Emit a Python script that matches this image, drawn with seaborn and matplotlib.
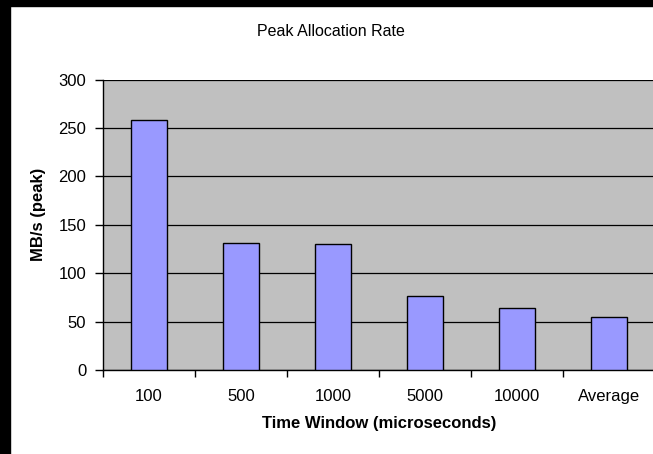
import matplotlib
matplotlib.use("Agg")
import matplotlib.pyplot as plt
import seaborn as sns
import pandas as pd
import numpy as np
from matplotlib.patches import Rectangle
from matplotlib.ticker import FixedLocator

windows = ["100", "500", "1000", "5000", "10000", "Average"]
peak_rate = [258, 131, 130, 76, 64, 55]
y_ticks = [0, 50, 100, 150, 200, 250, 300]

df = pd.DataFrame({"window": windows, "rate": peak_rate})

sns.set_theme(style="white")
plt.rcParams["font.family"] = ["Liberation Sans", "DejaVu Sans"]
plt.rcParams["text.color"] = "black"
plt.rcParams["axes.labelcolor"] = "black"

W, H = 653, 454
fig = plt.figure(figsize=(W / 100, H / 100), dpi=100)
fig.patch.set_facecolor("white")

left, right, top, bottom = 103, 655, 79.5, 370
ax = fig.add_axes([left / W, (H - bottom) / H, (right - left) / W, (bottom - top) / H])
ax.set_facecolor("#C0C0C0")

sns.barplot(data=df, x="window", y="rate", order=windows, color="#9999FF",
            edgecolor="black", linewidth=1.0, width=0.4, saturation=1, ax=ax, zorder=3)

ax.set_xlim(-0.5, len(windows) - 0.5)
ax.set_ylim(0, 300)
ax.set_yticks(y_ticks)
ax.yaxis.grid(True, color="black", linewidth=0.9)
ax.xaxis.grid(False)
ax.set_axisbelow(True)

# category separators as ticks
ax.xaxis.set_minor_locator(FixedLocator(np.arange(-0.5, len(windows), 1.0)))
ax.tick_params(axis="x", which="major", length=0, pad=14, labelsize=12, colors="black")
ax.tick_params(axis="x", which="minor", length=5, width=1, color="black", direction="out", bottom=True)
ax.tick_params(axis="y", length=6, width=1, color="black", direction="out", left=True,
               labelsize=12, pad=6, colors="black")

for s in ["top", "right"]:
    ax.spines[s].set_visible(False)
for s in ["left", "bottom"]:
    ax.spines[s].set_visible(True)
    ax.spines[s].set_color("black")
    ax.spines[s].set_linewidth(1.0)

ax.set_xlabel("Time Window (microseconds)", fontsize=12, fontweight="bold", labelpad=8)
ax.set_ylabel("MB/s (peak)", fontsize=12, fontweight="bold")
ax.yaxis.set_label_coords((45.5 - left) / (right - left), (bottom - 214) / (bottom - top))

fig.text(331 / W, 1 - 31 / H, "Peak Allocation Rate", ha="center", va="center", fontsize=11.5)

# dark frame strips along the left and top edges
fig.patches.append(Rectangle((0, 0), 10 / W, 1, transform=fig.transFigure, color="black", zorder=10))
fig.patches.append(Rectangle((0, 1 - 6 / H), 1, 6 / H, transform=fig.transFigure, color="black", zorder=10))

fig.savefig("out.png", dpi=100)
